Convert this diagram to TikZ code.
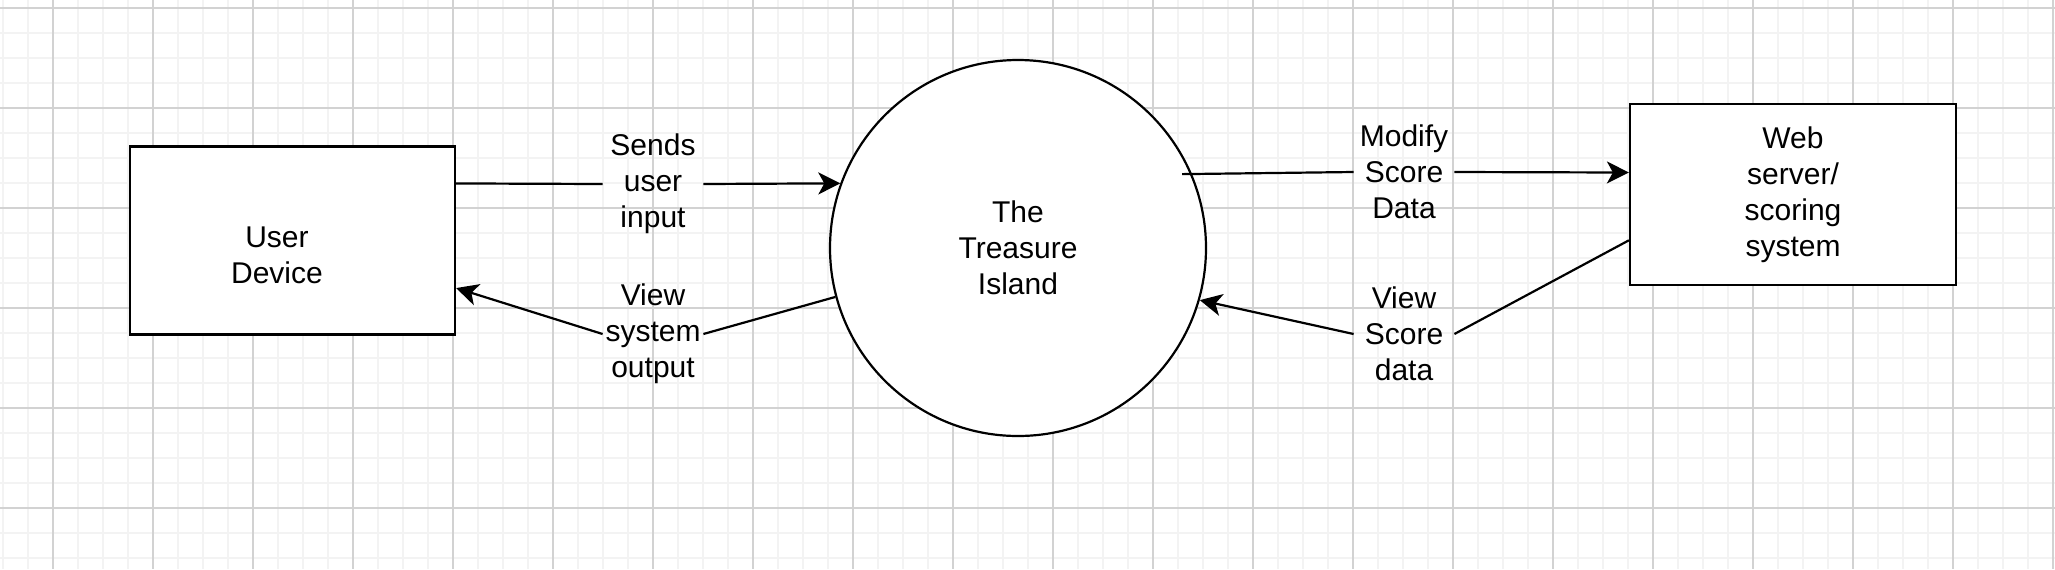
\documentclass[tikz,border=0pt]{standalone}
\usepackage{fontspec}
\setmainfont{Liberation Sans}
\usetikzlibrary{calc,arrows.meta}
\definecolor{minorgrid}{HTML}{F3F3F3}
\definecolor{majorgrid}{HTML}{D2D2D2}
\newcommand{\linewd}{1.1pt}
\newcommand{\labelfont}{\fontsize{15}{18}\selectfont}
\tikzset{
  entity/.style={draw, fill=white, line width=\linewd, rectangle, inner sep=0pt},
  process/.style={draw, fill=white, line width=\linewd, circle, minimum size=188pt, inner sep=0pt},
  txt/.style={align=center, font=\labelfont},
  flowlabel/.style={txt, minimum width=50pt, inner sep=0pt},
  flow/.style={line width=\linewd, -{Stealth[length=11pt,width=11pt,inset=3pt]}},
}

\begin{document}
\begin{tikzpicture}[x=0.5pt, y=-0.5pt]
\useasboundingbox (0,0) rectangle (2055,569);
\fill[white] (0,0) rectangle (2055,569);
%grid
\foreach \x in {3,28,...,2053} \draw[minorgrid, line width=0.6pt] (\x,0) -- (\x,569);
\foreach \y in {8,33,...,558} \draw[minorgrid, line width=0.6pt] (0,\y) -- (2055,\y);
\foreach \x in {53,153,...,2053} \draw[majorgrid, line width=0.6pt] (\x,0) -- (\x,569);
\foreach \y in {8,108,...,508} \draw[majorgrid, line width=0.6pt] (0,\y) -- (2055,\y);
%entities
\node[entity] (user) at (292.5, 240.5) [minimum width=162.5pt, minimum height=94pt] {};
\node[txt] (usertext) at (277, 255) {User\\Device};
\node[process, txt] (island) at (1018, 248) {The\\Treasure\\Island};
\node[entity, txt] (web) at (1793, 194.5) [minimum width=163pt, minimum height=90.5pt] {Web\\server/\\scoring\\system};
%flow labels
\node[flowlabel] (sends) at (653, 184) {Sends\\user\\input};
\node[flowlabel] (viewout) at (653, 334) {View\\system\\output};
\node[flowlabel] (modify) at (1404, 172) {Modify\\Score\\Data};
\node[flowlabel] (viewscore) at (1404, 334) {View\\Score\\data};
%flows
\draw[flow] ($(user.north east)!0.2!(user.south east)$) -- (sends.west) (sends.east) -- (island.160);
\draw[flow] (island.195) -- (viewout.east) (viewout.west) -- ($(user.north east)!0.75!(user.south east)$);
\draw[flow] ([xshift=-5pt]island.23) -- (modify.west) (modify.east) -- ($(web.north west)!0.38!(web.south west)$);
\draw[flow] ($(web.north west)!0.75!(web.south west)$) -- (viewscore.east) (viewscore.west) -- (island.344);
\end{tikzpicture}
\end{document}
